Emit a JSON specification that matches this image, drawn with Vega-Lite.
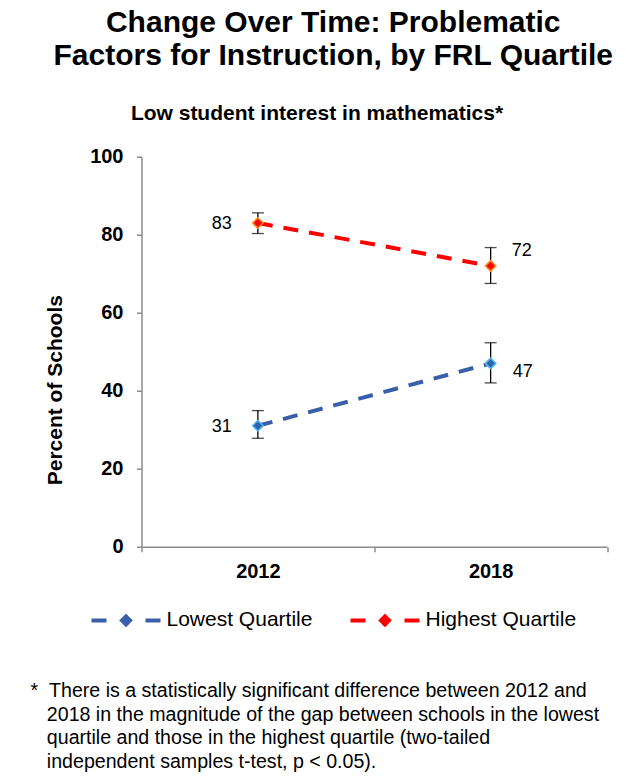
{
  "$schema": "https://vega.github.io/schema/vega-lite/v6.json",
  "width": 465.5,
  "height": 390,
  "autosize": "none",
  "padding": {"left": 141.5, "top": 156.7, "right": 34, "bottom": 234.3},
  "background": "white",
  "config": {"view": {"stroke": null}, "font": "Liberation Sans"},
  "title": {
    "text": ["Change Over Time: Problematic", "Factors for Instruction, by FRL Quartile"],
    "font": "Liberation Sans",
    "fontWeight": "bold",
    "fontSize": 30,
    "lineHeight": 33,
    "color": "black",
    "anchor": "middle",
    "frame": "group",
    "dx": -41,
    "offset": 31
  },
  "data": {
    "values": [
      {"year": "2012", "series": "Lowest Quartile", "pct": 31, "lo": 27.8, "hi": 34.9},
      {"year": "2018", "series": "Lowest Quartile", "pct": 47, "lo": 42.0, "hi": 52.3},
      {"year": "2012", "series": "Highest Quartile", "pct": 83, "lo": 80.3, "hi": 85.6},
      {"year": "2018", "series": "Highest Quartile", "pct": 72, "lo": 67.5, "hi": 76.7}
    ]
  },
  "resolve": {"axis": {"x": "independent"}},
  "layer": [
    {
      "mark": {"type": "line", "strokeWidth": 4, "strokeDash": [15, 11]},
      "encoding": {
        "x": {
          "field": "year",
          "type": "nominal",
          "scale": {"type": "band", "domain": ["2012", "2018"], "paddingInner": 0, "paddingOuter": 0},
          "axis": {
            "orient": "bottom",
            "labelAngle": 0,
            "labelFont": "Liberation Sans",
            "labelFontSize": 20,
            "labelFontWeight": "bold",
            "labelColor": "black",
            "labelPadding": 10,
            "tickBand": "extent",
            "tickSize": 5,
            "tickWidth": 1.5,
            "tickColor": "#8c8c8c",
            "domainColor": "#8c8c8c",
            "domainWidth": 1.5,
            "grid": false,
            "title": [
              "*\u00a0\u00a0There is a statistically significant difference between 2012 and",
              "\u200b\u00a0\u00a0\u00a02018 in the magnitude of the gap between schools in the lowest",
              "\u200b\u00a0\u00a0\u00a0quartile and those in the highest quartile (two-tailed",
              "\u200b\u00a0\u00a0\u00a0independent samples t-test, p < 0.05)."
            ],
            "titleFont": "Liberation Sans",
            "titleFontSize": 19.6,
            "titleFontWeight": "normal",
            "titleColor": "black",
            "titleAlign": "left",
            "titleBaseline": "top",
            "titleLineHeight": 23.5,
            "titleX": -111.5,
            "titleY": 135
          }
        },
        "y": {
          "field": "pct",
          "type": "quantitative",
          "title": "Percent of Schools",
          "scale": {"domain": [0, 100]},
          "axis": {
            "values": [0, 20, 40, 60, 80, 100],
            "labelFont": "Liberation Sans",
            "labelFontSize": 20,
            "labelFontWeight": "bold",
            "labelColor": "black",
            "labelPadding": 13.5,
            "tickSize": 5,
            "tickWidth": 1.5,
            "tickColor": "#8c8c8c",
            "domainColor": "#8c8c8c",
            "domainWidth": 1.5,
            "grid": false,
            "titleFont": "Liberation Sans",
            "titleFontSize": 21,
            "titleFontWeight": "bold",
            "titleColor": "black",
            "titleAngle": -90,
            "titleAlign": "center",
            "titleBaseline": "middle",
            "titleX": -86.5,
            "titleY": 233
          }
        },
        "stroke": {
          "field": "series",
          "type": "nominal",
          "scale": {"domain": ["Lowest Quartile", "Highest Quartile"], "range": ["#3A5FA9", "#FF0000"]},
          "legend": {
            "orient": "none",
            "legendX": -52,
            "legendY": 427,
            "direction": "horizontal",
            "title": null,
            "symbolType": "M-1,0L-0.565,0M0.565,0L1,0M0,-0.116L0.116,0L0,0.116L-0.116,0Z",
            "symbolSize": 4761,
            "symbolStrokeWidth": 4,
            "symbolDash": [1, 0],
            "labelFont": "Liberation Sans",
            "labelFontSize": 21,
            "labelColor": "black",
            "labelOffset": 4,
            "columnPadding": 30,
            "encode": {
              "symbols": {"update": {"fill": {"signal": "scale('stroke', datum.value)"}, "opacity": {"value": 1}}}
            }
          }
        }
      }
    },
    {
      "mark": {
        "type": "errorbar",
        "color": "black",
        "ticks": {"size": 12, "thickness": 1.3, "color": "black"},
        "rule": {"strokeWidth": 1.3, "color": "black"}
      },
      "encoding": {
        "x": {"field": "year", "type": "nominal", "axis": null},
        "y": {"field": "lo", "type": "quantitative", "title": "Percent of Schools"},
        "y2": {"field": "hi"}
      }
    },
    {
      "mark": {"type": "point", "shape": "diamond", "filled": true, "size": 110, "strokeWidth": 1.5, "opacity": 1},
      "encoding": {
        "x": {"field": "year", "type": "nominal", "axis": null},
        "y": {"field": "pct", "type": "quantitative", "title": "Percent of Schools"},
        "fill": {
          "field": "series",
          "type": "nominal",
          "scale": {"domain": ["Lowest Quartile", "Highest Quartile"], "range": ["#2F62AE", "#FF0000"]},
          "legend": null
        },
        "stroke": {
          "condition": {"test": "datum.series === 'Lowest Quartile'", "value": "#4DB6EC"},
          "value": "#FF8A1E"
        }
      }
    },
    {
      "transform": [{"filter": "datum.year === '2012'"}],
      "mark": {"type": "text", "align": "right", "baseline": "middle", "dx": -26, "dy": 1, "fontSize": 18, "font": "Liberation Sans", "color": "black"},
      "encoding": {
        "x": {
          "field": "year",
          "type": "nominal",
          "axis": {
            "orient": "top",
            "domain": false,
            "ticks": false,
            "labels": false,
            "grid": false,
            "title": "Low student interest in mathematics*",
            "titleFont": "Liberation Sans",
            "titleFontSize": 21,
            "titleFontWeight": "bold",
            "titleColor": "black",
            "titleAlign": "center",
            "titleBaseline": "alphabetic",
            "titleX": 175,
            "titleY": -37.4
          }
        },
        "y": {"field": "pct", "type": "quantitative", "title": "Percent of Schools"},
        "text": {"field": "pct", "type": "quantitative"}
      }
    },
    {
      "transform": [{"filter": "datum.year === '2018' && datum.series === 'Highest Quartile'"}],
      "mark": {"type": "text", "align": "left", "baseline": "middle", "dx": 21, "dy": -15, "fontSize": 18, "font": "Liberation Sans", "color": "black"},
      "encoding": {
        "x": {"field": "year", "type": "nominal", "axis": null},
        "y": {"field": "pct", "type": "quantitative", "title": "Percent of Schools"},
        "text": {"field": "pct", "type": "quantitative"}
      }
    },
    {
      "transform": [{"filter": "datum.year === '2018' && datum.series === 'Lowest Quartile'"}],
      "mark": {"type": "text", "align": "left", "baseline": "middle", "dx": 22, "dy": 9, "fontSize": 18, "font": "Liberation Sans", "color": "black"},
      "encoding": {
        "x": {"field": "year", "type": "nominal", "axis": null},
        "y": {"field": "pct", "type": "quantitative", "title": "Percent of Schools"},
        "text": {"field": "pct", "type": "quantitative"}
      }
    }
  ]
}
